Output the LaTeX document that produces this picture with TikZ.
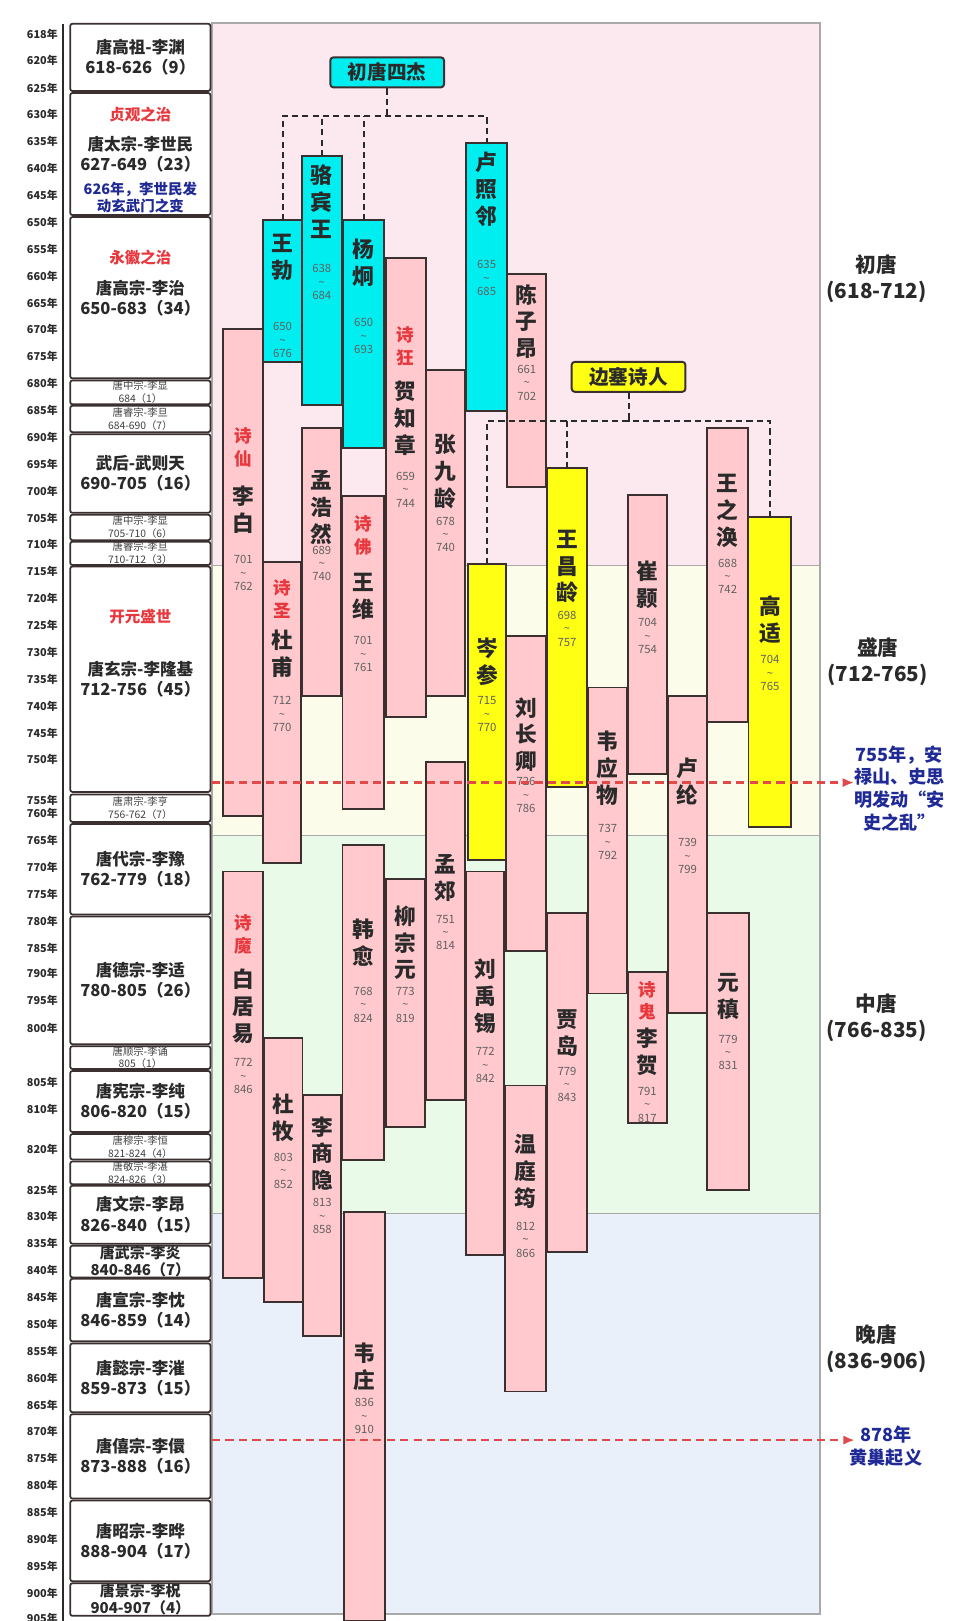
\documentclass[tikz,border=0pt]{standalone}
\usepackage{fontspec}
\setmainfont{Noto Sans CJK SC}
\usetikzlibrary{arrows.meta,positioning}

\definecolor{edge}{HTML}{3A3030}
\definecolor{pk}{HTML}{FFC9CE}
\definecolor{cy}{HTML}{00EEF0}
\definecolor{yl}{HTML}{FFFF14}
\definecolor{bgchu}{HTML}{FCE8EF}
\definecolor{bgsheng}{HTML}{FCFCEB}
\definecolor{bgzhong}{HTML}{E9FBE8}
\definecolor{bgwan}{HTML}{E9F0FA}
\definecolor{tagred}{HTML}{E8383D}
\definecolor{noteblue}{HTML}{1F2A96}
\definecolor{txt}{HTML}{2A2A2A}
\definecolor{frame}{HTML}{A9A9A9}
\definecolor{warred}{HTML}{E04A4A}

\begin{document}
\begin{tikzpicture}[x=1pt, y=-1pt,
  emp/.style={draw=edge, line width=1.7pt, rounded corners=2pt, fill=white,
    anchor=north west, outer sep=0pt, inner sep=0pt, minimum width=135.5,
    align=center, text=txt, font=\fontsize{16}{19.5}\selectfont\bfseries},
  empmid/.style={emp, font=\fontsize{14.5}{16.5}\selectfont\bfseries},
  empsm/.style={emp, text=black!75, font=\fontsize{10}{12.5}\selectfont},
  yrlab/.style={anchor=east, inner sep=0pt, text=txt, font=\fontsize{10.5}{12}\selectfont\bfseries},
  reign/.style={inner sep=0pt, text=tagred, font=\fontsize{15}{18}\selectfont\bfseries},
  memo/.style={align=center, inner sep=0pt, text=noteblue, font=\fontsize{14}{16}\selectfont\bfseries},
  poet/.style={draw=edge, line width=1.9pt, anchor=north west, outer sep=0pt,
    inner sep=0pt, minimum width=38.6},
  nm/.style={align=center, inner sep=0pt, text=txt, font=\fontsize{21}{26}\selectfont\bfseries},
  nick/.style={align=center, inner sep=0pt, text=tagred, font=\fontsize{17}{22}\selectfont\bfseries},
  yrs/.style={align=center, inner sep=0pt, text=black!62, font=\fontsize{11}{13}\selectfont},
  clan/.style={draw=edge, line width=1.9pt, rounded corners=3pt, inner sep=0pt,
    minimum width=110, minimum height=29, text=txt, font=\fontsize{19}{22}\selectfont\bfseries},
  dsh/.style={draw=txt, line width=2pt, dash pattern=on 6pt off 4pt},
  era/.style={align=center, inner sep=0pt, text=txt, font=\fontsize{20}{25}\selectfont\bfseries},
  event/.style={align=center, inner sep=0pt, text=noteblue, font=\fontsize{17.5}{22}\selectfont\bfseries},
  warline/.style={draw=warred, line width=2.4pt, dash pattern=on 8pt off 5pt,
    -{Latex[length=11pt,width=9pt]}}
]
\useasboundingbox (0,0) rectangle (935,1568);
\fill[white] (0,0) rectangle (935,1568);

% eras
\fill[bgchu] (205,22) rectangle (793,547);
\fill[bgsheng] (205,547) rectangle (793,808);
\fill[bgzhong] (205,808) rectangle (793,1174);
\fill[bgwan] (205,1174) rectangle (793,1561);
\draw[frame, line width=1.5pt] (205,22) rectangle (793,1561);
\draw[frame, line width=1.5pt] (205,547) -- (793,547) (205,808) -- (793,808) (205,1174) -- (793,1174);

% year axis
\draw[txt, line width=2pt] (61,23) -- (61,1568);
\foreach \yr/\yy in {618/33, 620/58, 625/85, 630/111, 635/137, 640/163, 645/189, 650/215,
  655/241, 660/267, 665/293, 670/319, 675/345, 680/371, 685/397, 690/423, 695/449,
  700/475, 705/501, 710/527, 715/553, 720/579, 725/605, 730/631, 735/657, 740/683,
  745/709, 750/735, 755/774, 760/787, 765/813, 770/839, 775/865, 780/891, 785/917,
  790/942, 795/968, 800/995, 805/1047, 810/1073, 820/1112, 825/1151, 830/1177,
  835/1203, 840/1229, 845/1255, 850/1281, 855/1307, 860/1333, 865/1359, 870/1385,
  875/1411, 880/1437, 885/1463, 890/1489, 895/1515, 900/1541, 905/1565}
  \node[yrlab] (y\yr) at (56,\yy) {\yr{}年};

% emperors
\node[emp, minimum height=65] (gaozu) at (68,23) {唐高祖-李渊\\618-626（9）};
\node[emp, minimum height=118] (taizong) at (68,90) {唐太宗-李世民\\627-649（23）};
\node[emp, minimum height=156] (gaozong) at (68,210) {唐高宗-李治\\650-683（34）};
\node[empsm, minimum height=23] (zhongzongA) at (68,368) {唐中宗-李显\\684（1）};
\node[empsm, minimum height=25.5] (ruizongA) at (68,392.5) {唐睿宗-李旦\\684-690（7）};
\node[emp, minimum height=76] (wuhou) at (68,420) {武后-武则天\\690-705（16）};
\node[empsm, minimum height=24.5] (zhongzongB) at (68,498) {唐中宗-李显\\705-710（6）};
\node[empsm, minimum height=22.5] (ruizongB) at (68,524) {唐睿宗-李旦\\710-712（3）};
\node[emp, minimum height=218] (xuanzong) at (68,548) {唐玄宗-李隆基\\712-756（45）};
\node[empsm, minimum height=26.5] (suzong) at (68,768.5) {唐肃宗-李亨\\756-762（7）};
\node[emp, minimum height=87.5] (daizong) at (68,797) {唐代宗-李豫\\762-779（18）};
\node[emp, minimum height=123.5] (dezong) at (68,886.5) {唐德宗-李适\\780-805（26）};
\node[empsm, minimum height=22] (shunzong) at (68,1012) {唐顺宗-李诵\\805（1）};
\node[emp, minimum height=59] (xianzong) at (68,1036) {唐宪宗-李纯\\806-820（15）};
\node[empsm, minimum height=24.5] (muzong) at (68,1097) {唐穆宗-李恒\\821-824（4）};
\node[empsm, minimum height=22] (jingzongA) at (68,1123.5) {唐敬宗-李湛\\824-826（3）};
\node[emp, minimum height=56] (wenzong) at (68,1147) {唐文宗-李昂\\826-840（15）};
\node[empmid, minimum height=30] (wuzong) at (68,1205) {唐武宗-李炎\\840-846（7）};
\node[emp, minimum height=60.5] (xuanzongB) at (68,1237) {唐宣宗-李忱\\846-859（14）};
\node[emp, minimum height=66.5] (yizong) at (68,1299.5) {唐懿宗-李漼\\859-873（15）};
\node[emp, minimum height=81.5] (xizong) at (68,1368) {唐僖宗-李儇\\873-888（16）};
\node[emp, minimum height=78] (zhaozong) at (68,1451.5) {唐昭宗-李晔\\888-904（17）};
\node[empmid, minimum height=31.5] (jingzongB) at (68,1531.5) {唐景宗-李柷\\904-907（4）};
\node[reign] (zhenguan) at (taizong.north |- 0,111) {贞观之治};
\node[memo] (xuanwu) at (taizong.north |- 0,191) {626年，李世民发\\动玄武门之变};
\node[reign] (yonghui) at (gaozong.north |- 0,249) {永徽之治};
\node[reign] (kaiyuan) at (xuanzong.north |- 0,596) {开元盛世};

% poets
\node[poet, fill=pk, minimum height=471] (libai) at (216,318) {};
\node[nick] (libaiT) at (libai.north |- 0,432.5) {诗\\仙};
\node[nm] (libaiN) at (libai.north |- 0,493) {李\\白};
\node[yrs] (libaiY) at (libai.north |- 0,554.5) {701\\\textasciitilde\\762};

\node[poet, fill=cy, minimum height=137] (wangbo) at (254,213) {};
\node[nm] (wangboN) at (wangbo.north |- 0,249) {王\\勃};
\node[yrs] (wangboY) at (wangbo.north |- 0,329) {650\\\textasciitilde\\676};

\node[poet, fill=cy, minimum height=241] (luobinwang) at (292,151) {};
\node[nm] (luobinwangN) at (luobinwang.north |- 0,195) {骆\\宾\\王};
\node[yrs] (luobinwangY) at (luobinwang.north |- 0,273) {638\\\textasciitilde\\684};

\node[poet, fill=cy, minimum height=220, minimum width=39.6] (yangjiong) at (332,213) {};
\node[nm] (yangjiongN) at (yangjiong.north |- 0,254.5) {杨\\炯};
\node[yrs] (yangjiongY) at (yangjiong.north |- 0,325) {650\\\textasciitilde\\693};

\node[poet, fill=pk, minimum height=444] (hezhizhang) at (373,250) {};
\node[nick] (hezhizhangT) at (hezhizhang.north |- 0,335) {诗\\狂};
\node[nm] (hezhizhangN) at (hezhizhang.north |- 0,404.5) {贺\\知\\章};
\node[yrs] (hezhizhangY) at (hezhizhang.north |- 0,473.5) {659\\\textasciitilde\\744};

\node[poet, fill=pk, minimum height=315] (zhangjiuling) at (411.6,358) {};
\node[nm] (zhangjiulingN) at (zhangjiuling.north |- 0,456) {张\\九\\龄};
\node[yrs] (zhangjiulingY) at (zhangjiuling.north |- 0,517) {678\\\textasciitilde\\740};

\node[poet, fill=cy, minimum height=260, minimum width=39] (luzhaolin) at (451.2,138) {};
\node[nm] (luzhaolinN) at (luzhaolin.north |- 0,183) {卢\\照\\邻};
\node[yrs] (luzhaolinY) at (luzhaolin.north |- 0,269) {635\\\textasciitilde\\685};

\node[poet, fill=pk, minimum height=206, minimum width=38] (chenziang) at (490.5,265) {};
\node[nm] (chenziangN) at (chenziang.north |- 0,311) {陈\\子\\昂};
\node[yrs] (chenziangY) at (chenziang.north |- 0,370) {661\\\textasciitilde\\702};

\node[poet, fill=pk, minimum height=259, minimum width=38] (menghaoran) at (292.3,414) {};
\node[nm] (menghaoranN) at (menghaoran.north |- 0,491) {孟\\浩\\然};
\node[yrs] (menghaoranY) at (menghaoran.north |- 0,545) {689\\\textasciitilde\\740};

\node[poet, fill=pk, minimum height=303, minimum width=40] (wangwei) at (331.3,480) {};
\node[nick] (wangweiT) at (wangwei.north |- 0,518) {诗\\佛};
\node[nm] (wangweiN) at (wangwei.north |- 0,577) {王\\维};
\node[yrs] (wangweiY) at (wangwei.north |- 0,632.7) {701\\\textasciitilde\\761};

\node[poet, fill=pk, minimum height=291, minimum width=36.5] (dufu) at (254.6,544) {};
\node[nick] (dufuT) at (dufu.north |- 0,579.5) {诗\\圣};
\node[nm] (dufuN) at (dufu.north |- 0,632.7) {杜\\甫};
\node[yrs] (dufuY) at (dufu.north |- 0,690.7) {712\\\textasciitilde\\770};

\node[poet, fill=yl, minimum height=286, minimum width=36.5] (censhen) at (452.8,546) {};
\node[nm] (censhenN) at (censhen.north |- 0,640) {岑\\参};
\node[yrs] (censhenY) at (censhen.north |- 0,690.7) {715\\\textasciitilde\\770};

\node[poet, fill=yl, minimum height=308] (wangchangling) at (529.2,453) {};
\node[nm] (wangchanglingN) at (wangchangling.north |- 0,548) {王\\昌\\龄};
\node[yrs] (wangchanglingY) at (wangchangling.north |- 0,608) {698\\\textasciitilde\\757};

\node[poet, fill=pk, minimum height=305, minimum width=37.8] (liuchangqing) at (489.9,615) {};
\node[nm] (liuchangqingN) at (liuchangqing.north |- 0,710.7) {刘\\长\\卿};
\node[yrs] (liuchangqingY) at (liuchangqing.north |- 0,769) {726\\\textasciitilde\\786};

\node[poet, fill=pk, minimum height=296, minimum width=37.8] (weiyingwu) at (568.9,665) {};
\node[nm] (weiyingwuN) at (weiyingwu.north |- 0,743) {韦\\应\\物};
\node[yrs] (weiyingwuY) at (weiyingwu.north |- 0,814.5) {737\\\textasciitilde\\792};

\node[poet, fill=pk, minimum height=270, minimum width=38] (cuihao) at (607.3,479) {};
\node[nm] (cuihaoN) at (cuihao.north |- 0,566) {崔\\颢};
\node[yrs] (cuihaoY) at (cuihao.north |- 0,615.5) {704\\\textasciitilde\\754};

\node[poet, fill=pk, minimum height=284, minimum width=39.6] (wangzhihuan) at (684,414) {};
\node[nm] (wangzhihuanN) at (wangzhihuan.north |- 0,494) {王\\之\\涣};
\node[yrs] (wangzhihuanY) at (wangzhihuan.north |- 0,557.5) {688\\\textasciitilde\\742};

\node[poet, fill=yl, minimum height=300, minimum width=41.5] (gaoshi) at (724,500) {};
\node[nm] (gaoshiN) at (gaoshi.north |- 0,599) {高\\适};
\node[yrs] (gaoshiY) at (gaoshi.north |- 0,651) {704\\\textasciitilde\\765};

\node[poet, fill=pk, minimum height=307, minimum width=38] (lulun) at (646,673) {};
\node[nm] (lulunN) at (lulun.north |- 0,755.5) {卢\\纶};
\node[yrs] (lulunY) at (lulun.north |- 0,828) {739\\\textasciitilde\\799};

\node[poet, fill=pk, minimum height=327] (mengjiao) at (411.6,737) {};
\node[nm] (mengjiaoN) at (mengjiao.north |- 0,849) {孟\\郊};
\node[yrs] (mengjiaoY) at (mengjiao.north |- 0,902) {751\\\textasciitilde\\814};

\node[poet, fill=pk, minimum height=393] (baijuyi) at (216,843) {};
\node[nick] (baijuyiT) at (baijuyi.north |- 0,904) {诗\\魔};
\node[nm] (baijuyiN) at (baijuyi.north |- 0,973.4) {白\\居\\易};
\node[yrs] (baijuyiY) at (baijuyi.north |- 0,1041) {772\\\textasciitilde\\846};

\node[poet, fill=pk, minimum height=305, minimum width=40] (hanyu) at (331.3,817) {};
\node[nm] (hanyuN) at (hanyu.north |- 0,912) {韩\\愈};
\node[yrs] (hanyuY) at (hanyu.north |- 0,972) {768\\\textasciitilde\\824};

\node[poet, fill=pk, minimum height=240, minimum width=38] (liuzongyuan) at (373,850) {};
\node[nm] (liuzongyuanN) at (liuzongyuan.north |- 0,912) {柳\\宗\\元};
\node[yrs] (liuzongyuanY) at (liuzongyuan.north |- 0,972) {773\\\textasciitilde\\819};

\node[poet, fill=pk, minimum height=371, minimum width=36.5] (liuyuxi) at (451.2,843) {};
\node[nm] (liuyuxiN) at (liuyuxi.north |- 0,963.7) {刘\\禹\\锡};
\node[yrs] (liuyuxiY) at (liuyuxi.north |- 0,1030.4) {772\\\textasciitilde\\842};

\node[poet, fill=pk, minimum height=328] (jiadao) at (529.2,883) {};
\node[nm] (jiadaoN) at (jiadao.north |- 0,999) {贾\\岛};
\node[yrs] (jiadaoY) at (jiadao.north |- 0,1049) {779\\\textasciitilde\\843};

\node[poet, fill=pk, minimum height=146, minimum width=38.3] (lihe) at (607,940) {};
\node[nick] (liheT) at (lihe.north |- 0,968) {诗\\鬼};
\node[nm] (liheN) at (lihe.north |- 0,1017.7) {李\\贺};
\node[yrs] (liheY) at (lihe.north |- 0,1068.7) {791\\\textasciitilde\\817};

\node[poet, fill=pk, minimum height=268, minimum width=40] (yuanzhen) at (684.3,883) {};
\node[nm] (yuanzhenN) at (yuanzhen.north |- 0,964) {元\\稹};
\node[yrs] (yuanzhenY) at (yuanzhen.north |- 0,1018) {779\\\textasciitilde\\831};

\node[poet, fill=pk, minimum height=255, minimum width=37] (dumu) at (255.6,1004) {};
\node[nm] (dumuN) at (dumu.north |- 0,1081.4) {杜\\牧};
\node[yrs] (dumuY) at (dumu.north |- 0,1132.3) {803\\\textasciitilde\\852};

\node[poet, fill=pk, minimum height=233, minimum width=37] (lishangyin) at (293.3,1059) {};
\node[nm] (lishangyinN) at (lishangyin.north |- 0,1116) {李\\商\\隐};
\node[yrs] (lishangyinY) at (lishangyin.north |- 0,1176.4) {813\\\textasciitilde\\858};

\node[poet, fill=pk, minimum height=296, minimum width=40.3] (wentingyun) at (488.3,1050) {};
\node[nm] (wentingyunN) at (wentingyun.north |- 0,1133) {温\\庭\\筠};
\node[yrs] (wentingyunY) at (wentingyun.north |- 0,1199) {812\\\textasciitilde\\866};

\node[poet, fill=pk, minimum height=396, minimum width=39.7] (weizhuang) at (332.6,1172) {};
\node[nm] (weizhuangN) at (weizhuang.north |- 0,1322) {韦\\庄};
\node[yrs] (weizhuangY) at (weizhuang.north |- 0,1370) {836\\\textasciitilde\\910};

% groups
\node[clan, fill=cy] (sijie) at (374.5,70) {初唐四杰};
\node[clan, fill=yl] (biansai) at (608,364.5) {边塞诗人};
\coordinate (sjbar) at (sijie.south |- 0,112);
\draw[dsh] (sijie.south) -- (sjbar);
\draw[dsh] (wangbo.north) |- (sjbar) -| (luzhaolin.north);
\draw[dsh] (luobinwang.north) -- (luobinwang.north |- sjbar);
\draw[dsh] (yangjiong.north) -- (yangjiong.north |- sjbar);
\coordinate (bsbar) at (biansai.south |- 0,407);
\draw[dsh] (biansai.south) -- (bsbar);
\draw[dsh] (censhen.north) |- (bsbar) -| (gaoshi.north);
\draw[dsh] (wangchangling.north) -- (wangchangling.north |- bsbar);

% eras and events
\node[era] (chutang) at (848,269.5) {初唐\\(618-712)};
\node[era] (shengtang) at (849,640) {盛唐\\(712-765)};
\node[era] (zhongtang) at (848,984.5) {中唐\\(766-835)};
\node[era] (wantang) at (848,1304.5) {晚唐\\(836-906)};
\node[event] (anshi) at (870,762.5) {755年，安\\禄山、史思\\明发动“安\\史之乱”};
\node[event] (huangchao) at (857,1399) {878年\\黄巢起义};
\coordinate (anshiL) at (205,757);
\coordinate (huangchaoL) at (205,1393);
\draw[warline] (anshiL) -- (anshiL -| anshi.west);
\draw[warline] (huangchaoL) -- ([xshift=5pt]huangchaoL -| huangchao.west);
\end{tikzpicture}
\end{document}
